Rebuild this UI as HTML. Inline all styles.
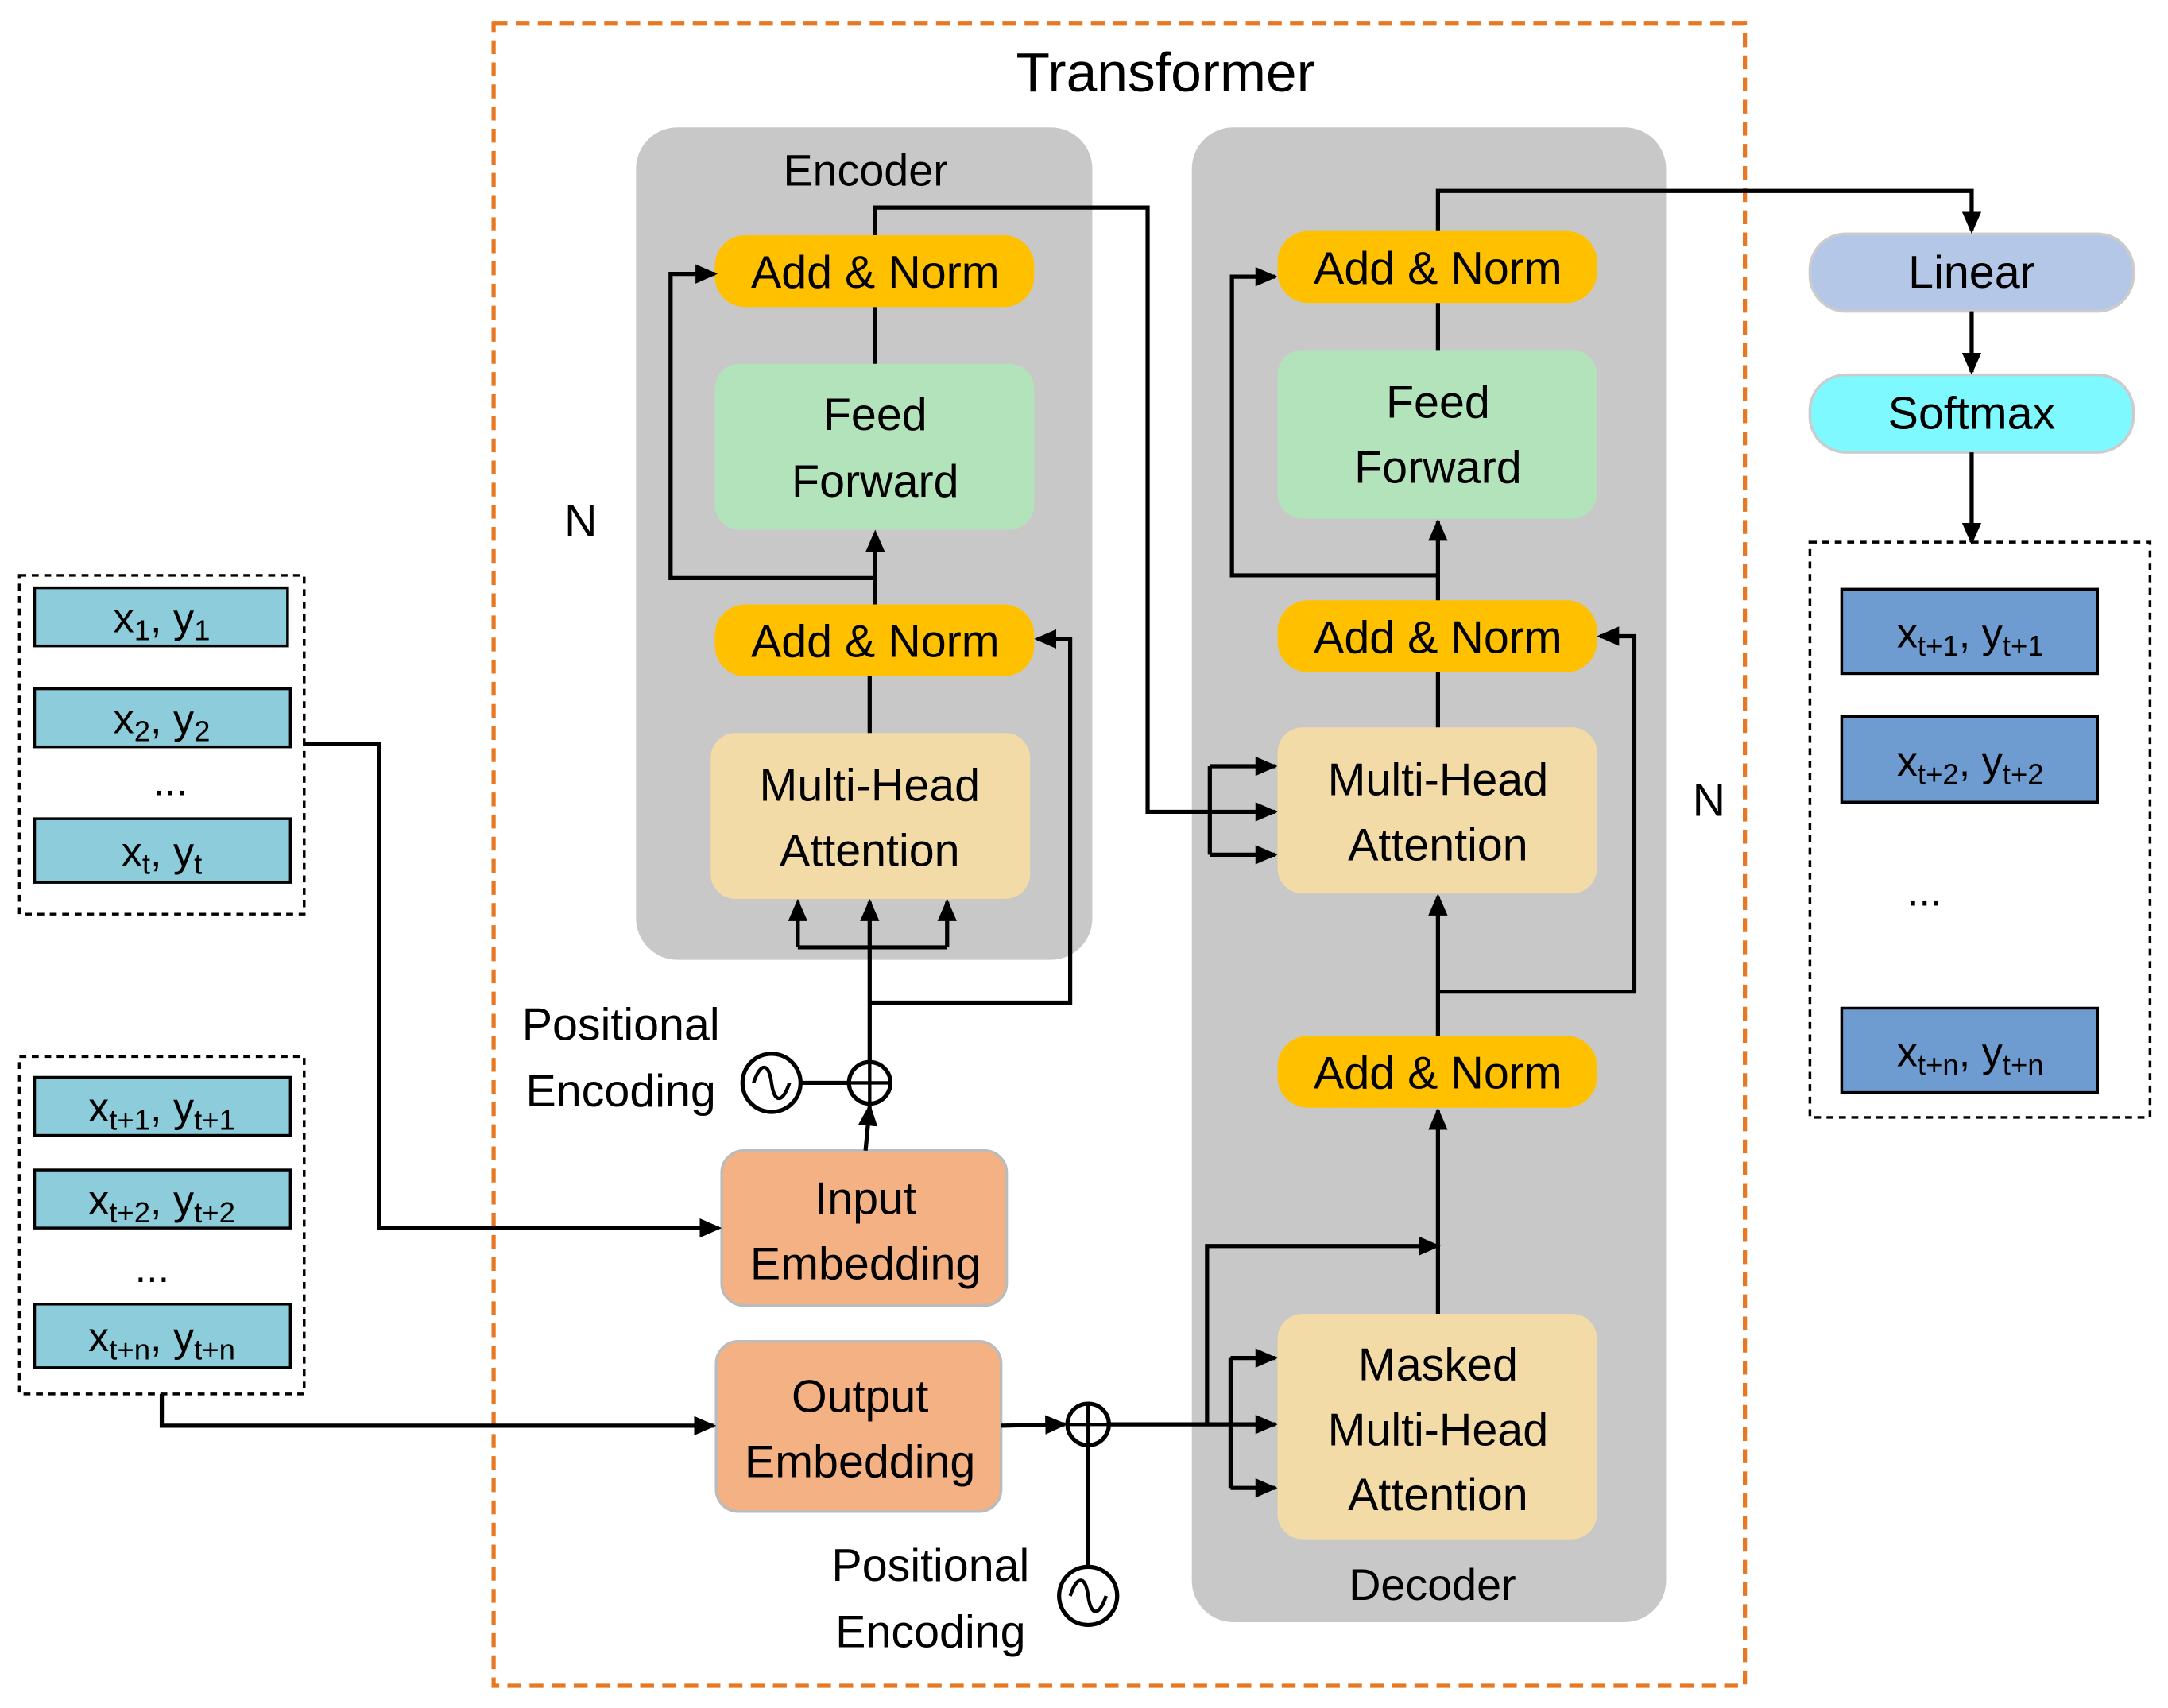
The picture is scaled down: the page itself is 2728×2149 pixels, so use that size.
<!DOCTYPE html>
<html><head><meta charset="utf-8"><style>html,body{margin:0;padding:0;background:#fff}svg{display:block}</style></head>
<body>
<svg width="2728" height="2149" viewBox="0 0 1568 1235" xmlns="http://www.w3.org/2000/svg" font-family="Liberation Sans, sans-serif">
<defs>
<marker id="b" markerWidth="16" markerHeight="16" refX="14" refY="8" orient="auto" markerUnits="userSpaceOnUse" viewBox="0 0 16 16"><path d="M0,1 L16,8 L0,15 z" fill="#000"/></marker>
</defs>
<rect x="357" y="17" width="905" height="1202" fill="none" stroke="#E87722" stroke-width="3" stroke-dasharray="10,6"/>
<text x="843" y="66" font-size="40" text-anchor="middle">Transformer</text>
<rect x="460" y="92" width="330" height="602" rx="30" fill="#C8C8C8"/>
<rect x="862" y="92" width="343" height="1081" rx="30" fill="#C8C8C8"/>
<text x="626" y="134" font-size="32" text-anchor="middle">Encoder</text>
<text x="1036" y="1157" font-size="32" text-anchor="middle">Decoder</text>
<g font-size="33" text-anchor="middle">
<rect x="517" y="170" width="231" height="52" rx="22" fill="#FFC000"/><text x="633" y="208">Add &amp; Norm</text>
<rect x="517" y="263" width="231" height="120" rx="18" fill="#B3E3BB"/><text x="633" y="311">Feed</text><text x="633" y="359">Forward</text>
<rect x="517" y="437" width="231" height="52" rx="22" fill="#FFC000"/><text x="633" y="475">Add &amp; Norm</text>
<rect x="514" y="530" width="231" height="120" rx="18" fill="#F2DBA7"/><text x="629" y="579">Multi-Head</text><text x="629" y="626">Attention</text>
<rect x="924" y="167" width="231" height="52" rx="22" fill="#FFC000"/><text x="1040" y="205">Add &amp; Norm</text>
<rect x="924" y="253" width="231" height="122" rx="18" fill="#B3E3BB"/><text x="1040" y="302">Feed</text><text x="1040" y="349">Forward</text>
<rect x="924" y="434" width="231" height="52" rx="22" fill="#FFC000"/><text x="1040" y="472">Add &amp; Norm</text>
<rect x="924" y="526" width="231" height="120" rx="18" fill="#F2DBA7"/><text x="1040" y="575">Multi-Head</text><text x="1040" y="622">Attention</text>
<rect x="924" y="749" width="231" height="52" rx="22" fill="#FFC000"/><text x="1040" y="787">Add &amp; Norm</text>
<rect x="924" y="950" width="231" height="163" rx="18" fill="#F2DBA7"/><text x="1040" y="998">Masked</text><text x="1040" y="1045">Multi-Head</text><text x="1040" y="1092">Attention</text>
<rect x="522" y="832" width="206" height="112" rx="16" fill="#F4B183" stroke="#bbb" stroke-width="2"/><text x="626" y="878">Input</text><text x="626" y="925">Embedding</text>
<rect x="518" y="970" width="206" height="123" rx="16" fill="#F4B183" stroke="#bbb" stroke-width="2"/><text x="622" y="1021">Output</text><text x="622" y="1068">Embedding</text>
<rect x="1309" y="169" width="234" height="56" rx="26" fill="#B4C7E7" stroke="#ccc" stroke-width="2"/><text x="1426" y="208">Linear</text>
<rect x="1309" y="271" width="234" height="56" rx="26" fill="#7DF9FF" stroke="#ccc" stroke-width="2"/><text x="1426" y="310">Softmax</text>
<text x="449" y="752">Positional</text><text x="449" y="800">Encoding</text>
<text x="673" y="1143">Positional</text><text x="673" y="1191">Encoding</text>
<text x="420" y="388">N</text><text x="1236" y="590">N</text>
</g>
<rect x="1309" y="392" width="246" height="416" fill="none" stroke="#000" stroke-width="2" stroke-dasharray="5,4"/>
<g font-size="30" text-anchor="middle">
<rect x="1332" y="426" width="185" height="61" fill="#6E9BD0" stroke="#000" stroke-width="2"/><text x="1425" y="468">x<tspan font-size="21" dy="6">t+1</tspan><tspan dy="-6">, y</tspan><tspan font-size="21" dy="6">t+1</tspan></text>
<rect x="1332" y="518" width="185" height="62" fill="#6E9BD0" stroke="#000" stroke-width="2"/><text x="1425" y="561">x<tspan font-size="21" dy="6">t+2</tspan><tspan dy="-6">, y</tspan><tspan font-size="21" dy="6">t+2</tspan></text>
<text x="1392" y="655">...</text>
<rect x="1332" y="729" width="185" height="61" fill="#6E9BD0" stroke="#000" stroke-width="2"/><text x="1425" y="771">x<tspan font-size="21" dy="6">t+n</tspan><tspan dy="-6">, y</tspan><tspan font-size="21" dy="6">t+n</tspan></text>
</g>
<rect x="14" y="416" width="206" height="245" fill="none" stroke="#000" stroke-width="2" stroke-dasharray="5,4"/>
<rect x="14" y="764" width="206" height="244" fill="none" stroke="#000" stroke-width="2" stroke-dasharray="5,4"/>
<g font-size="30" text-anchor="middle">
<rect x="25" y="425" width="183" height="42" fill="#8DCDDB" stroke="#000" stroke-width="2"/><text x="117" y="457">x<tspan font-size="21" dy="6">1</tspan><tspan dy="-6">, y</tspan><tspan font-size="21" dy="6">1</tspan></text>
<rect x="25" y="498" width="185" height="42" fill="#8DCDDB" stroke="#000" stroke-width="2"/><text x="117" y="530">x<tspan font-size="21" dy="6">2</tspan><tspan dy="-6">, y</tspan><tspan font-size="21" dy="6">2</tspan></text>
<text x="123" y="575">...</text>
<rect x="25" y="592" width="185" height="46" fill="#8DCDDB" stroke="#000" stroke-width="2"/><text x="117" y="626">x<tspan font-size="21" dy="6">t</tspan><tspan dy="-6">, y</tspan><tspan font-size="21" dy="6">t</tspan></text>
<rect x="25" y="779" width="185" height="42" fill="#8DCDDB" stroke="#000" stroke-width="2"/><text x="117" y="811">x<tspan font-size="21" dy="6">t+1</tspan><tspan dy="-6">, y</tspan><tspan font-size="21" dy="6">t+1</tspan></text>
<rect x="25" y="846" width="185" height="42" fill="#8DCDDB" stroke="#000" stroke-width="2"/><text x="117" y="878">x<tspan font-size="21" dy="6">t+2</tspan><tspan dy="-6">, y</tspan><tspan font-size="21" dy="6">t+2</tspan></text>
<text x="110" y="927">...</text>
<rect x="25" y="943" width="185" height="46" fill="#8DCDDB" stroke="#000" stroke-width="2"/><text x="117" y="977">x<tspan font-size="21" dy="6">t+n</tspan><tspan dy="-6">, y</tspan><tspan font-size="21" dy="6">t+n</tspan></text>
</g>
<g fill="#fff" stroke="#000" stroke-width="3">
<circle cx="558" cy="783" r="21"/><circle cx="629" cy="783" r="15"/>
<circle cx="787" cy="1154" r="21"/><circle cx="787" cy="1030" r="15"/>
</g>
<g stroke="#000" stroke-width="2.5" fill="none">
<path d="M614,783 H644 M629,768 V798 M772,1030 H802 M787,1015 V1045"/>
<path d="M545,783 C550,768 556,768 558,783 C560,798 566,798 571,783"/>
<path d="M774,1154 C779,1139 785,1139 787,1154 C789,1169 795,1169 800,1154"/>
</g>
<g stroke="#000" stroke-width="3" fill="none" marker-end="url(#b)">
<path d="M626,832 L629,800"/>
<path d="M629,768 V652"/>
<path d="M577,685 H685" marker-end="none"/>
<path d="M577,685 V652"/><path d="M685,685 V652"/>
<path d="M629,725 H774 V462 H750"/>
<path d="M629,530 V489" marker-end="none"/>
<path d="M633,437 V385"/>
<path d="M633,418 H485 V198 H517"/>
<path d="M633,263 V222" marker-end="none"/>
<path d="M633,170 V150 H830 V587 H922"/>
<path d="M875,554 V618" marker-end="none"/>
<path d="M875,554 H922"/><path d="M875,618 H922"/>
<path d="M802,1030 H890" marker-end="none"/>
<path d="M890,982 V1076" marker-end="none"/>
<path d="M890,982 H922"/><path d="M890,1030 H922"/><path d="M890,1076 H922"/>
<path d="M873,1030 V901 H1040"/>
<path d="M1040,950 V803"/>
<path d="M1040,749 V648"/>
<path d="M1040,717 H1182 V460 H1157"/>
<path d="M1040,526 V486" marker-end="none"/>
<path d="M1040,434 V377"/>
<path d="M1040,416 H891 V200 H922"/>
<path d="M1040,253 V219" marker-end="none"/>
<path d="M1040,167 V138 H1426 V167"/>
<path d="M1426,225 V269"/>
<path d="M1426,327 V392"/>
<path d="M220,538 H274 V888 H520"/>
<path d="M117,1008 V1031 H516"/>
<path d="M724,1031 L770,1030"/>
<path d="M579,783 H614" marker-end="none"/>
<path d="M787,1045 V1133" marker-end="none"/>
</g>
</svg>
</body></html>
